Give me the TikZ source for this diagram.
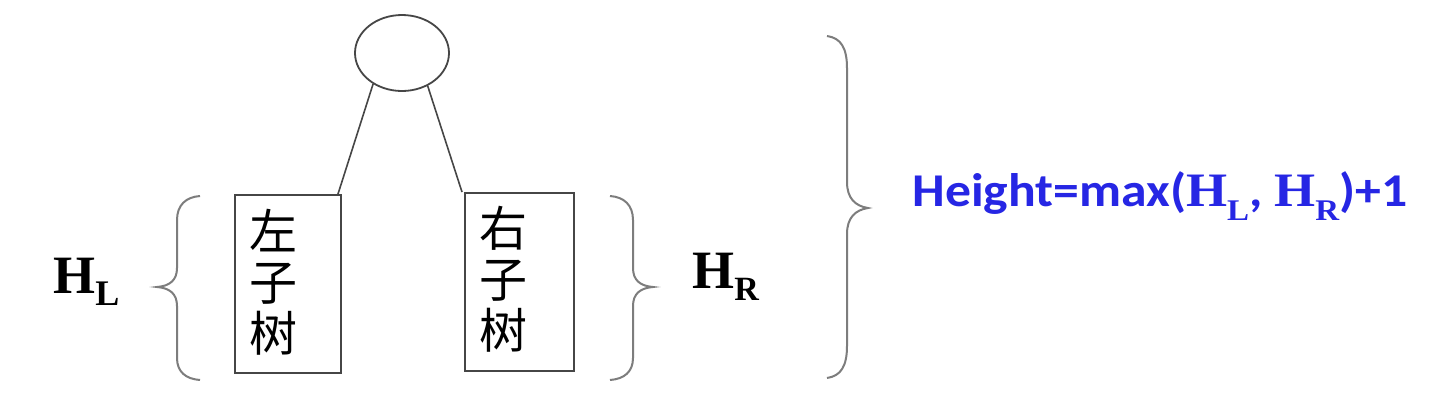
\documentclass[tikz,border=0pt]{standalone}
\usepackage{fontspec}
\usetikzlibrary{shapes.geometric}
\setmainfont{Liberation Serif}
\newfontfamily\cjk{Noto Sans CJK SC}
\newfontfamily\calib{Carlito}
\definecolor{fblue}{RGB}{38,38,228}
\definecolor{bracegray}{RGB}{125,125,125}
\definecolor{linegray}{RGB}{70,70,70}
\newcommand{\fsub}[1]{\raisebox{-7pt}{\rmfamily\fontsize{15pt}{17pt}\selectfont #1}}
\begin{document}
\begin{tikzpicture}[x=0.5pt,y=-0.5pt,
  bracestyle/.style={draw=bracegray,line width=1pt},
  treebox/.style={draw=linegray,line width=1pt,minimum width=53pt,minimum height=89pt,inner sep=0pt},
  rootnode/.style={draw=linegray,ellipse,line width=0.9pt,minimum width=47pt,minimum height=38pt,inner sep=0pt},
  edge/.style={draw=linegray,line width=0.8pt},
  cjktext/.style={font=\cjk\fontsize{24pt}{25.5pt}\selectfont,align=center,inner sep=0pt},
  hlabel/.style={font=\bfseries\fontsize{27pt}{30pt}\selectfont,inner sep=0pt,anchor=base west},
  formula/.style={font=\calib\bfseries\fontsize{23.5pt}{28pt}\selectfont,text=fblue,inner sep=0pt,anchor=base west}
]
\useasboundingbox (0,0) rectangle (1432,408);
\fill[white] (0,0) rectangle (1432,408);

\node[rootnode] (root) at (402,53) {};
\node[treebox] (L) at (288,284) {};
\node[treebox,minimum width=54.5pt] (R) at (519.5,282) {};
\node[cjktext] (Ltxt) at (273,282) {左\\子\\树};
\node[cjktext] (Rtxt) at (503,279) {右\\子\\树};

\draw[edge] (root.227) -- ([xshift=-2pt]L.north east);
\draw[edge] (root.308) -- ([xshift=-1pt]R.north west);

% left brace
\draw[bracestyle] (200,196) .. controls (186,197) and (177,205) .. (177,220) -- (177,268)
  .. controls (177,280) and (170,286) .. (157,287)
  .. controls (170,288) and (177,294) .. (177,306) -- (177,358)
  .. controls (177,372) and (186,379) .. (200,380);
% right brace
\draw[bracestyle] (610,196) .. controls (624,197) and (633,205) .. (633,220) -- (633,268)
  .. controls (633,280) and (640,286) .. (653,287)
  .. controls (640,288) and (633,294) .. (633,306) -- (633,358)
  .. controls (633,372) and (624,379) .. (610,380);
% big brace
\draw[bracestyle] (827,36) .. controls (841,38) and (847,48) .. (847,68) -- (847,182)
  .. controls (847,198) and (855,206) .. (868,208)
  .. controls (855,210) and (847,218) .. (847,234) -- (847,346)
  .. controls (847,366) and (841,376) .. (827,378);

\node[hlabel] (HL) at (53,293) {H\raisebox{-6pt}{\fontsize{18pt}{20pt}\selectfont L}};
\node[hlabel] (HR) at (692,288) {H\raisebox{-6pt}{\fontsize{17pt}{20pt}\selectfont R}};

\node[formula] (F) at (912,206) {\scalebox{1.1}[1]{Height=max({\rmfamily\fontsize{24pt}{28pt}\selectfont H}\fsub{L}, {\rmfamily\fontsize{24pt}{28pt}\selectfont H}\fsub{R})+1}};
\end{tikzpicture}
\end{document}
